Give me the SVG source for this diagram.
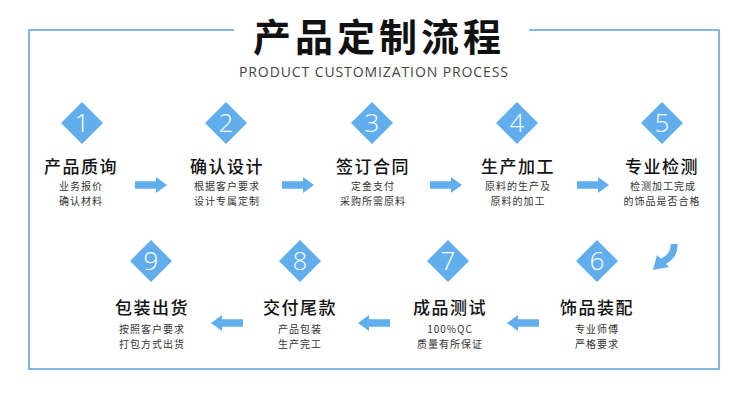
<svg xmlns="http://www.w3.org/2000/svg" xmlns:xlink="http://www.w3.org/1999/xlink" width="750" height="396" viewBox="0 0 750 396">
<defs>
<style>
.title{font-family:"Noto Sans CJK SC",sans-serif;font-size:38px;font-weight:700;fill:#111;}
.sub{font-family:"Open Sans","Liberation Sans",sans-serif;font-size:14px;fill:#444;}
.num{font-family:"Open Sans","Liberation Sans",sans-serif;font-size:26px;font-weight:300;fill:#fff;text-anchor:middle;}
.nt{font-family:"Noto Sans CJK SC",sans-serif;font-size:17px;font-weight:500;fill:#111;text-anchor:middle;letter-spacing:1.5px;}
.nd{font-family:"Noto Sans CJK SC",sans-serif;font-size:10px;fill:#333;text-anchor:middle;letter-spacing:1px;}
.dia{fill:#62aeec;}
.arr{fill:#62aeec;}
</style>
<path id="dia" d="M0,-21 L21,0 L0,21 L-21,0 Z"/>
<path id="arr" d="M0,-3.7 H21 V-8 L32,0 L21,8 V3.7 H0 Z"/>
</defs>
<rect width="750" height="396" fill="#fff"/>
<path d="M234,30 H29 V369 H719 V30 H529" fill="none" stroke="#5b9fe0" stroke-width="1.5"/>
<text class="title" x="379" y="51" text-anchor="middle" letter-spacing="4">产品定制流程</text>
<text class="sub" x="239" y="77" textLength="269" lengthAdjust="spacing">PRODUCT CUSTOMIZATION PROCESS</text>

<g id="node1">
<use xlink:href="#dia" class="dia" transform="translate(82,123)"/>
<text class="num" x="82" y="132">1</text>
<text class="nt" x="81" y="173">产品质询</text>
<text class="nd" x="81" y="190">业务报价</text>
<text class="nd" x="81" y="205">确认材料</text>
</g>
<g id="node2">
<use xlink:href="#dia" class="dia" transform="translate(226,123)"/>
<text class="num" x="226" y="132">2</text>
<text class="nt" x="227" y="173">确认设计</text>
<text class="nd" x="227" y="190">根据客户要求</text>
<text class="nd" x="227" y="205">设计专属定制</text>
</g>
<g id="node3">
<use xlink:href="#dia" class="dia" transform="translate(372,123)"/>
<text class="num" x="372" y="132">3</text>
<text class="nt" x="373" y="173">签订合同</text>
<text class="nd" x="373" y="190">定金支付</text>
<text class="nd" x="373" y="205">采购所需原料</text>
</g>
<g id="node4">
<use xlink:href="#dia" class="dia" transform="translate(517,123)"/>
<text class="num" x="517" y="132">4</text>
<text class="nt" x="518" y="173">生产加工</text>
<text class="nd" x="518" y="190">原料的生产及</text>
<text class="nd" x="518" y="205">原料的加工</text>
</g>
<g id="node5">
<use xlink:href="#dia" class="dia" transform="translate(662,123)"/>
<text class="num" x="662" y="132">5</text>
<text class="nt" x="662" y="173">专业检测</text>
<text class="nd" x="663" y="190">检测加工完成</text>
<text class="nd" x="662" y="205">的饰品是否合格</text>
</g>
<g id="node6">
<use xlink:href="#dia" class="dia" transform="translate(597,261)"/>
<text class="num" x="597" y="270">6</text>
<text class="nt" x="597" y="314">饰品装配</text>
<text class="nd" x="597" y="333">专业师傅</text>
<text class="nd" x="597" y="348">严格要求</text>
</g>
<g id="node7">
<use xlink:href="#dia" class="dia" transform="translate(448,261)"/>
<text class="num" x="448" y="270">7</text>
<text class="nt" x="450" y="314">成品测试</text>
<text class="nd" x="450" y="333">100%QC</text>
<text class="nd" x="450" y="348">质量有所保证</text>
</g>
<g id="node8">
<use xlink:href="#dia" class="dia" transform="translate(300,261)"/>
<text class="num" x="300" y="270">8</text>
<text class="nt" x="300" y="314">交付尾款</text>
<text class="nd" x="300" y="333">产品包装</text>
<text class="nd" x="300" y="348">生产完工</text>
</g>
<g id="node9">
<use xlink:href="#dia" class="dia" transform="translate(151,261)"/>
<text class="num" x="151" y="270">9</text>
<text class="nt" x="152" y="314">包装出货</text>
<text class="nd" x="152" y="333">按照客户要求</text>
<text class="nd" x="152" y="348">打包方式出货</text>
</g>

<g id="connectors">
<use xlink:href="#arr" class="arr" transform="translate(135,185)"/>
<use xlink:href="#arr" class="arr" transform="translate(282,185)"/>
<use xlink:href="#arr" class="arr" transform="translate(430,185)"/>
<use xlink:href="#arr" class="arr" transform="translate(577,185)"/>
<path d="M674,244 Q675,256 662,262" fill="none" stroke="#62aeec" stroke-width="7"/>
<path d="M653,270 L657,255 L669,267 Z" class="arr"/>
<use xlink:href="#arr" class="arr" transform="translate(539,323) scale(-1,1)"/>
<use xlink:href="#arr" class="arr" transform="translate(390,323) scale(-1,1)"/>
<use xlink:href="#arr" class="arr" transform="translate(243,323) scale(-1,1)"/>
</g>
</svg>
